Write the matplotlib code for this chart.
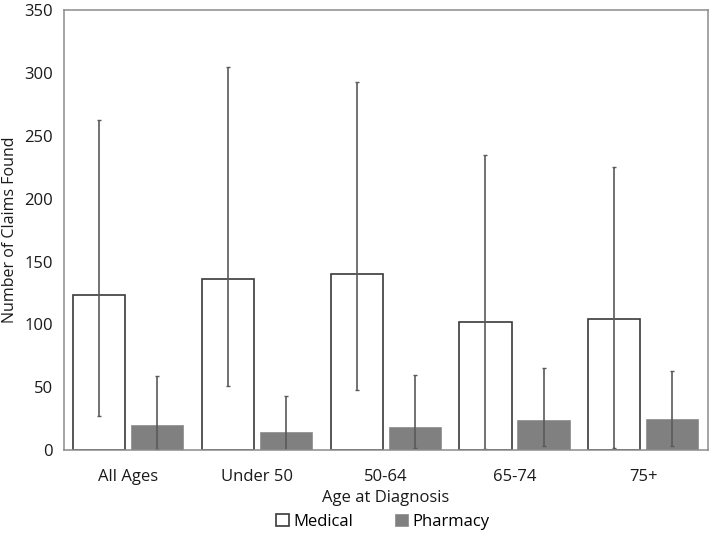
import matplotlib.pyplot as plt
import numpy as np

plt.rcParams["font.family"] = ["Open Sans", "DejaVu Sans"]

groups = ["All Ages", "Under 50", "50-64", "65-74", "75+"]

medical = [123, 136, 140, 102, 104]
medical_low = [27, 51, 48, 1, 2]
medical_high = [263, 305, 293, 235, 225]

pharmacy = [20, 14, 18, 24, 25]
pharmacy_low = [1, -2, 2, 3, 3]
pharmacy_high = [59, 43, 60, 65, 63]

x = np.arange(len(groups))
w = 0.405
off = 0.2255

fig = plt.figure(figsize=(7.09, 5.36), dpi=100)
ax = fig.add_axes([0.0903, 0.1604, 0.9077, 0.8206])

med = np.array(medical)
ph = np.array(pharmacy)
med_err = [med - np.array(medical_low), np.array(medical_high) - med]
ph_err = [ph - np.array(pharmacy_low), np.array(pharmacy_high) - ph]

ekw = dict(ecolor="#5a5a5a", elinewidth=1.2, capsize=1.5, capthick=1.0)
ax.bar(x - off, med, w, color="white", edgecolor="#3a3a3a", linewidth=1.2,
       yerr=med_err, error_kw=ekw, label="Medical", zorder=2)
ax.bar(x + off, ph, w, color="#808080", edgecolor="#8a8a8a", linewidth=0.5,
       yerr=ph_err, error_kw=ekw, label="Pharmacy", zorder=2)

ax.set_xlim(-0.5, len(groups) - 0.5)
ax.set_ylim(0, 350)
ax.set_yticks(np.arange(0, 351, 50))
ax.set_xticks(x)
ax.set_xticklabels(groups)
ax.tick_params(length=0, labelsize=12, colors="#1a1a1a")
ax.tick_params(axis="x", pad=14)
ax.tick_params(axis="y", pad=8)
for s in ax.spines.values():
    s.set_color("#8c8c8c")
    s.set_linewidth(1.1)

ax.set_xlabel("Age at Diagnosis", fontsize=12, color="#1a1a1a", labelpad=3)
ax.set_ylabel("Number of Claims Found", fontsize=11.5, color="#1a1a1a")
ax.yaxis.set_label_coords(-0.071, 0.5)

fig.legend(loc="center", bbox_to_anchor=(0.54, 0.027), ncol=2, frameon=False,
           fontsize=12, handlelength=0.75, handleheight=0.75, handletextpad=0.3,
           columnspacing=2.5)

fig.savefig("out.png", dpi=100)
